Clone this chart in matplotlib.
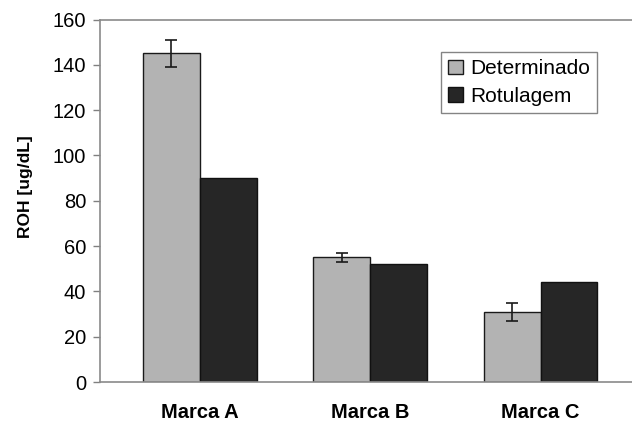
import matplotlib
matplotlib.use("Agg")
import matplotlib.pyplot as plt
import numpy as np

categories = ["Marca A", "Marca B", "Marca C"]
determinado = [145, 55, 31]
determinado_err = [6, 2, 4]
rotulagem = [90, 52, 44]
yticks = [0, 20, 40, 60, 80, 100, 120, 140, 160]

plt.rcParams['font.family'] = ['Liberation Sans', 'DejaVu Sans']

fig = plt.figure(figsize=(6.32, 4.30), dpi=100)
ax = fig.add_axes([100/632, 1 - 382/430, 1 - 100/632 + 0.01, (382 - 19.5)/430])

x = np.arange(len(categories))
w = 1/3
ax.bar(x - w/2, determinado, w, color='#b3b3b3', edgecolor='#1a1a1a', linewidth=1.0,
       label='Determinado', zorder=2)
ax.bar(x + w/2, rotulagem, w, color='#262626', edgecolor='#111111', linewidth=1.0,
       label='Rotulagem', zorder=2)
ax.errorbar(x - w/2, determinado, yerr=determinado_err, fmt='none', ecolor='#1a1a1a',
            elinewidth=1.2, capsize=4.5, capthick=1.2, zorder=3)

ax.set_xlim(-100/171, (640 - 200)/171)
ax.set_ylim(0, 160)
ax.set_yticks(yticks)
ax.set_xticks(x)
ax.set_xticklabels(categories, fontsize=14.5, fontweight='bold')
ax.tick_params(axis='x', length=0, pad=15)
ax.tick_params(axis='y', direction='out', length=5, width=1, color='#808080',
               labelsize=14.5, pad=5)
for s in ['left', 'bottom', 'top']:
    ax.spines[s].set_color('#8a8a8a')
    ax.spines[s].set_linewidth(1.2)
ax.spines['right'].set_visible(False)
ax.set_ylabel('ROH [ug/dL]', fontsize=12.5, fontweight='bold')
ax.yaxis.set_label_coords(-0.124, 0.54)

leg = ax.legend(loc='upper left', bbox_to_anchor=(441/632, 1 - 52/430),
                bbox_transform=fig.transFigure, fontsize=15, frameon=True,
                fancybox=False, edgecolor='#666666', handlelength=0.7,
                handleheight=0.7, handletextpad=0.35, borderpad=0.35,
                labelspacing=0.4, borderaxespad=0)
leg.get_frame().set_linewidth(1.0)

fig.savefig('out.png', dpi=100)
